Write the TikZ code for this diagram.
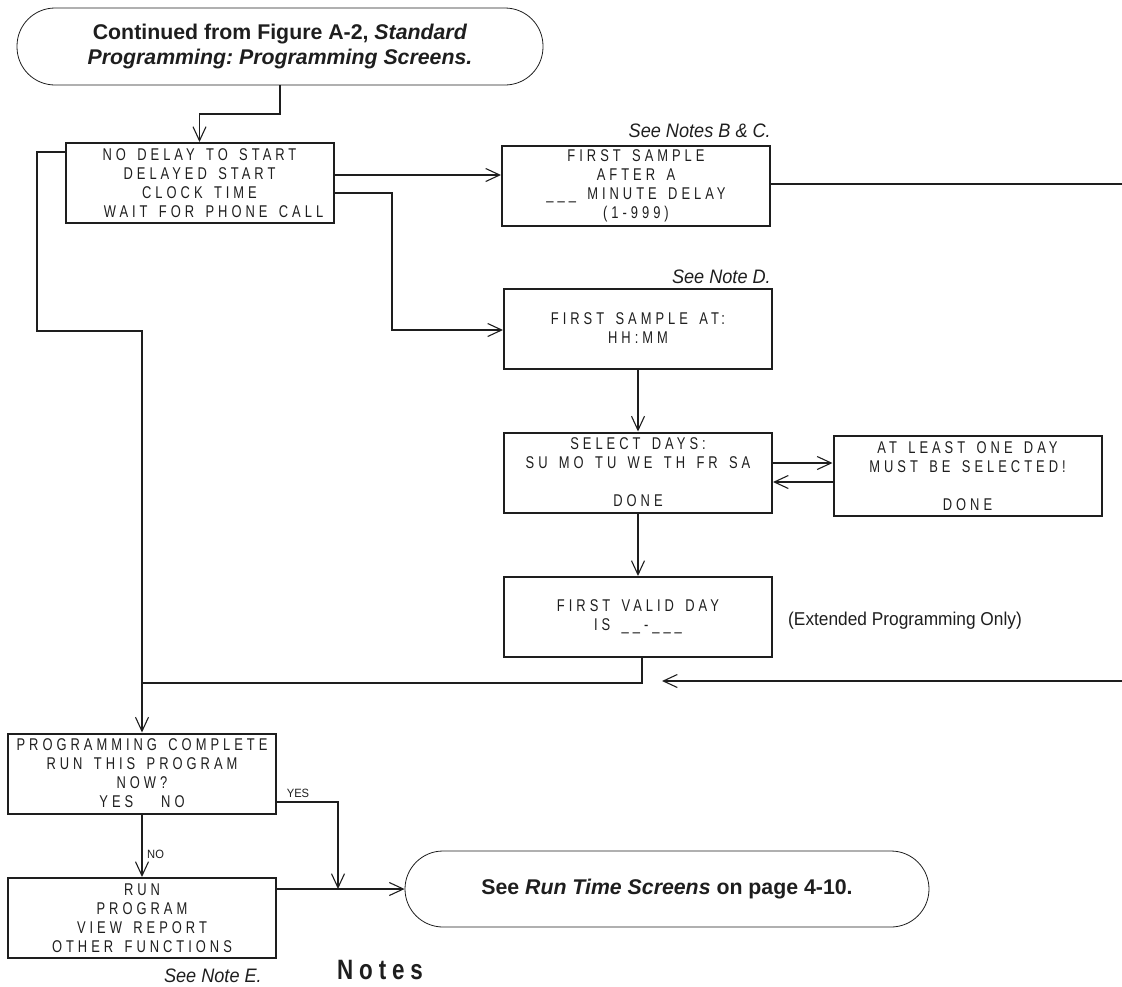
\documentclass[tikz,border=0pt]{standalone}
\usepackage{fontspec}
\setmainfont{Liberation Sans}
\newfontfamily\lcdfont[FakeStretch=0.76,LetterSpace=23.5,WordSpace=1.5]{Liberation Sans}
\newfontfamily\condfont[FakeStretch=0.93]{Liberation Sans}
\newfontfamily\notesfont[FakeStretch=0.8,LetterSpace=21]{Liberation Sans}
\usetikzlibrary{arrows.meta,calc}
\definecolor{ink}{RGB}{30,30,30}
\begin{document}
\frenchspacing
\begin{tikzpicture}[x=1pt,y=-1pt,
  every node/.style={text=ink},
  screen/.style={draw=ink,line width=2pt,rectangle,minimum width=268pt,minimum height=80pt,inner sep=0pt,align=center,font=\lcdfont\fontsize{17}{19}\selectfont},
  term/.style={draw=ink,line width=0.8pt,rounded corners=38pt,minimum width=526pt,minimum height=77pt,align=center,inner sep=0pt,font=\fontsize{21.3}{25}\selectfont\bfseries},
  conn/.style={draw=ink,line width=1.1pt},
  arr/.style={conn,-{Straight Barb[length=14pt,width=13pt]}},
  note/.style={font=\condfont\fontsize{19.5}{22}\selectfont\itshape,inner sep=0pt},
  small/.style={font=\condfont\fontsize{12}{14}\selectfont,inner sep=0pt}
]
\useasboundingbox (0,0) rectangle (1122,986);

% nodes
\node[term] (start) at (280,46.5) {Continued from Figure A-2, \textit{Standard}\\\textit{Programming: Programming Screens.}};
\node[screen] (b1) at (199.5,183) {NO DELAY TO START\\DELAYED START\\CLOCK TIME\\\hspace*{28pt}WAIT FOR PHONE CALL};
\node[screen] (b2) at (636,185.5) {FIRST SAMPLE\\AFTER A\\\_\_\_ MINUTE DELAY\\(1-999)};
\node[screen] (b3) at (638,328.5) {FIRST SAMPLE AT:\\HH:MM};
\node[screen] (b4) at (638,472.5) {SELECT DAYS:\\SU MO TU WE TH FR SA\\[19pt]DONE};
\node[screen] (b5) at (967.5,476) {AT LEAST ONE DAY\\MUST BE SELECTED!\\[19pt]DONE};
\node[screen] (b6) at (638,617) {FIRST VALID DAY\\IS \_\_-\_\_\_};
\node[screen] (b7) at (142,773.5) {PROGRAMMING COMPLETE\\RUN THIS PROGRAM\\NOW?\\YES\hspace{28pt}NO};
\node[screen] (b8) at (142,918) {RUN\\PROGRAM\\VIEW REPORT\\OTHER FUNCTIONS};
\node[term,minimum width=524pt,minimum height=76pt] (end) at (667,889) {See \textit{Run Time Screens} on page 4-10.};

\node[note,anchor=base east] (nbc) at (771,137) {See Notes B \& C.};
\node[note,anchor=base east] (nd) at (771,283) {See Note D.};
\node[note,anchor=base east] (ne) at (262,982) {See Note E.};
\node[anchor=base west,inner sep=0pt,font=\notesfont\fontsize{28}{30}\selectfont\bfseries] (notes) at (337,979) {Notes};
\node[anchor=base west,inner sep=0pt,font=\condfont\fontsize{18.6}{22}\selectfont] (ext) at (788,625) {(Extended Programming Only)};
\node[small,anchor=base] (yes) at (298,797) {YES};
\node[small,anchor=base west] (no) at (147,858) {NO};

% free ends and junctions
\coordinate (r1) at (1122,184);
\coordinate (r2) at (1122,681);
\coordinate (m) at (662,681);
\coordinate (j2) at (142,683);
\coordinate (j3) at (338,889);

% connectors
\draw[arr] (start.south) -- (start.south |- 0,114) -| (b1.north);
\draw[arr] (b1.east |- 0,175) -- (b2.west |- 0,175);
\draw[conn] (b2.east |- r1) -- (r1);
\draw[arr] (b1.east |- 0,193) -| (392,330) -- (b3.west |- 0,330);
\draw[arr] (b1.west |- 0,152) -| (37,331) -| (b7.north);
\draw[arr] (b3.south) -- (b4.north);
\draw[arr] (b4.east |- 0,463) -- (b5.west |- 0,463);
\draw[arr] (b5.west |- 0,482) -- (b4.east |- 0,482);
\draw[arr] (b4.south) -- (b6.north);
\draw[conn] (b6.south -| 642,0) |- (j2);
\draw[arr] (r2) -- (m);
\draw[arr] (b7.south) -- (b8.north);
\draw[arr] (b7.east |- 0,802) -| (j3);
\draw[arr] (b8.east |- 0,889) -- (end.west);
\end{tikzpicture}
\end{document}
